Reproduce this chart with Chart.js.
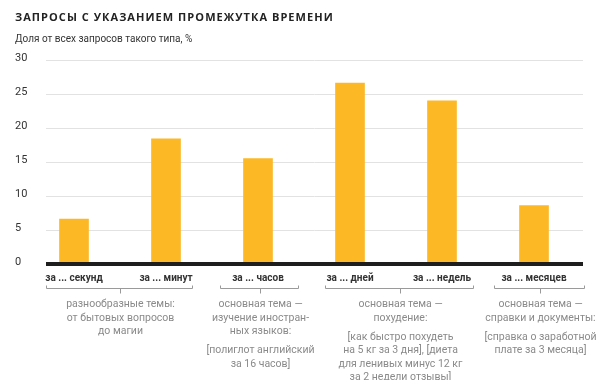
<!DOCTYPE html>
<html>
<head>
<meta charset="utf-8">
<script src="https://cdn.jsdelivr.net/npm/chart.js@4/dist/chart.umd.min.js"></script>
<style>
    body { margin: 0; background: #fff; }
    #wrap { position: relative; width: 600px; height: 380px; }
    #title { position: absolute; left: 15px; top: 9px; font: bold 11px "Open Sans", sans-serif; letter-spacing: 1.05px; color: #222; }
    #subtitle { position: absolute; left: 15px; top: 33px; font: 10px Roboto, sans-serif; color: #333; }
</style>
</head>
<body>
<div id="wrap">
    <canvas id="chart" width="600" height="380"></canvas>
    <div id="title">ЗАПРОСЫ С УКАЗАНИЕМ ПРОМЕЖУТКА ВРЕМЕНИ</div>
    <div id="subtitle">Доля от всех запросов такого типа, %</div>
</div>
<script>
    // data
    var periods = ['за ... секунд', 'за ... минут', 'за ... часов', 'за ... дней', 'за ... недель', 'за ... месяцев'];
    var shares = [6.6, 18.4, 15.5, 26.6, 24.0, 8.6];
    var yTicks = [0, 5, 10, 15, 20, 25, 30];

    // which bars each bracket covers
    var groups = [[0, 1], [2, 2], [3, 4], [5, 5]];
    var topics = [
        ['разнообразные темы:', 'от бытовых вопросов', 'до магии'],
        ['основная тема —', 'изучение иностран-', 'ных языков:'],
        ['основная тема —', 'похудение:'],
        ['основная тема —', 'справки и документы:']
    ];
    var examples = [
        [],
        ['[полиглот английский', 'за 16 часов]'],
        ['[как быстро похудеть', 'на 5 кг за 3 дня], [диета', 'для ленивых минус 12 кг', 'за 2 недели отзывы]'],
        ['[справка о заработной', 'плате за 3 месяца]']
    ];

    var bracketPad = [[28, 26], [38, 40], [25, 31], [40, 50]];

    var decor = {
        id: 'decor',
        beforeDatasetsDraw: function(chart) {
            var ctx = chart.ctx, a = chart.chartArea, y = chart.scales.y;
            ctx.save();
            ctx.strokeStyle = '#e2e2e2';
            ctx.lineWidth = 1;
            yTicks.forEach(function(t) {
                if (t === 0) return;
                var py = Math.round(y.getPixelForValue(t)) + 0.5;
                ctx.beginPath();
                ctx.moveTo(a.left + 18, py);
                ctx.lineTo(a.right + 3, py);
                ctx.stroke();
            });
            ctx.restore();
        },
        afterDatasetsDraw: function(chart) {
            var ctx = chart.ctx, a = chart.chartArea, y = chart.scales.y;
            var py = y.getPixelForValue(0);
            ctx.save();
            ctx.fillStyle = '#1e1e1e';
            ctx.fillRect(a.left + 18, py - 2, a.right - a.left - 15, 4);
            ctx.restore();
        },
        afterDraw: function(chart) {
            var ctx = chart.ctx, a = chart.chartArea, x = chart.scales.x;
            var by = Math.round(a.bottom + 24) + 0.5;
            ctx.save();
            groups.forEach(function(g, i) {
                var x0 = Math.round(x.getPixelForValue(g[0]) - bracketPad[i][0]) + 0.5;
                var x1 = Math.round(x.getPixelForValue(g[1]) + bracketPad[i][1]) + 0.5;
                var mid = Math.round((x0 + x1) / 2) + 0.5;
                ctx.strokeStyle = '#9a9a9a';
                ctx.lineWidth = 1;
                ctx.beginPath();
                ctx.moveTo(x0, by - 3);
                ctx.lineTo(x0, by);
                ctx.lineTo(x1, by);
                ctx.lineTo(x1, by - 3);
                ctx.moveTo(mid, by);
                ctx.lineTo(mid, by + 5);
                ctx.stroke();

                ctx.fillStyle = '#8a8a8a';
                ctx.font = '10.5px Roboto, sans-serif';
                ctx.textAlign = 'center';
                ctx.textBaseline = 'middle';
                var ty = by + 16;
                topics[i].forEach(function(line, k) {
                    ctx.fillText(line, mid, ty + k * 13.5);
                });
                var ey = ty + (topics[i].length - 1) * 13.5 + 19;
                examples[i].forEach(function(line, k) {
                    ctx.fillText(line, mid, ey + k * 13.5);
                });
            });
            ctx.restore();
        }
    };

    new Chart(document.getElementById('chart'), {
        type: 'bar',
        data: {
            labels: periods,
            datasets: [{
                data: shares,
                backgroundColor: '#fdb826',
                barThickness: 29
            }]
        },
        options: {
            responsive: false,
            animation: false,
            devicePixelRatio: 1,
            layout: { padding: { left: 15, right: 20, top: 60, bottom: 96 } },
            plugins: {
                legend: { display: false },
                tooltip: { enabled: false }
            },
            scales: {
                x: {
                    grid: { display: false },
                    border: { display: false },
                    ticks: {
                        color: '#333',
                        font: { family: 'Roboto', size: 10, weight: 'bold' },
                        padding: 0,
                        maxRotation: 0,
                        autoSkip: false
                    }
                },
                y: {
                    min: 0,
                    max: 30,
                    grid: { display: false },
                    border: { display: false },
                    afterBuildTicks: function(axis) {
                        axis.ticks = yTicks.map(function(v) { return { value: v }; });
                    },
                    afterFit: function(axis) {
                        axis.width = 13;
                    },
                    ticks: {
                        color: '#333',
                        font: { family: 'Roboto', size: 11 },
                        crossAlign: 'far',
                        labelOffset: -2,
                        padding: 0
                    }
                }
            }
        },
        plugins: [decor]
    });
</script>
</body>
</html>
